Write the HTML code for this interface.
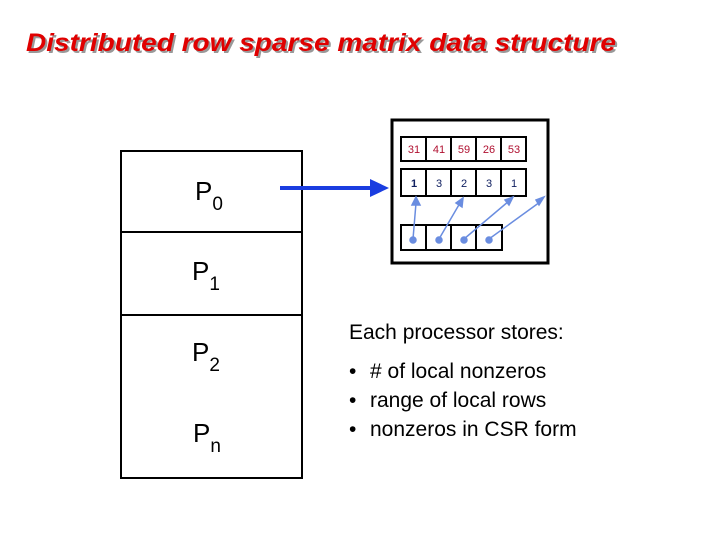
<!DOCTYPE html>
<html><head><style>
body{margin:0;background:#fff;width:720px;height:540px;overflow:hidden;font-family:"Liberation Sans",sans-serif}
</style></head><body>
<svg width="720" height="540" xmlns="http://www.w3.org/2000/svg" font-family="Liberation Sans, sans-serif">
<text x="28" y="53" font-size="25" font-weight="bold" font-style="italic" fill="#999" textLength="590" lengthAdjust="spacingAndGlyphs">Distributed row sparse matrix data structure</text>
<text x="26" y="51" font-size="25" font-weight="bold" font-style="italic" fill="#e00000" textLength="590" lengthAdjust="spacingAndGlyphs">Distributed row sparse matrix data structure</text>
<rect x="121" y="151" width="181" height="327" fill="none" stroke="#000" stroke-width="2"/>
<line x1="121" y1="232" x2="302" y2="232" stroke="#000" stroke-width="2"/>
<line x1="121" y1="315" x2="302" y2="315" stroke="#000" stroke-width="2"/>
<g font-size="26" fill="#000">
<text x="195" y="200">P<tspan font-size="19" dy="10">0</tspan></text>
<text x="192" y="280">P<tspan font-size="19" dy="10">1</tspan></text>
<text x="192" y="361">P<tspan font-size="19" dy="10">2</tspan></text>
<text x="193" y="442">P<tspan font-size="19" dy="10">n</tspan></text>
</g>
<line x1="280" y1="188" x2="372" y2="188" stroke="#1a3de0" stroke-width="4"/>
<polygon points="370,179 389,188 370,197" fill="#1a3de0"/>
<rect x="392" y="120" width="156" height="143" fill="none" stroke="#000" stroke-width="3"/>
<g stroke="#000" stroke-width="2" fill="none">
<rect x="401" y="137" width="125" height="24"/>
<line x1="426" y1="137" x2="426" y2="161"/><line x1="451" y1="137" x2="451" y2="161"/><line x1="476" y1="137" x2="476" y2="161"/><line x1="501" y1="137" x2="501" y2="161"/>
<rect x="401" y="169" width="125" height="27"/>
<line x1="426" y1="169" x2="426" y2="196"/><line x1="451" y1="169" x2="451" y2="196"/><line x1="476" y1="169" x2="476" y2="196"/><line x1="501" y1="169" x2="501" y2="196"/>
<rect x="401" y="225" width="101" height="25"/>
<line x1="426" y1="225" x2="426" y2="250"/><line x1="451" y1="225" x2="451" y2="250"/><line x1="476" y1="225" x2="476" y2="250"/>
</g>
<g font-size="11" fill="#b01030" text-anchor="middle">
<text x="414" y="153">31</text><text x="439" y="153">41</text><text x="464" y="153">59</text><text x="489" y="153">26</text><text x="514" y="153">53</text>
</g>
<g font-size="11" fill="#102060" text-anchor="middle">
<text x="414" y="187" font-weight="bold">1</text><text x="439" y="187">3</text><text x="464" y="187">2</text><text x="489" y="187">3</text><text x="514" y="187">1</text>
</g>
<g stroke="#6a8de0" stroke-width="1.5" fill="#6a8de0">
<line x1="413" y1="239" x2="416" y2="203"/><polygon points="412,205 416,197 420,205"/>
<line x1="439" y1="239" x2="460" y2="203"/><polygon points="456,203 463,198 462,207"/>
<line x1="464" y1="239" x2="509" y2="201"/><polygon points="505,200 513,197 509,205"/>
<line x1="489" y1="239" x2="540" y2="202"/><polygon points="536,200 544,197 539,205"/>
<circle cx="413" cy="240" r="3"/><circle cx="439" cy="240" r="3"/><circle cx="464" cy="240" r="3"/><circle cx="489" cy="240" r="3"/>
</g>
<g font-size="21" fill="#000">
<text x="349" y="339">Each processor stores:</text>
<text x="349" y="378">•</text><text x="370" y="378">#  of local nonzeros</text>
<text x="349" y="407">•</text><text x="370" y="407">range of local rows</text>
<text x="349" y="436">•</text><text x="370" y="436">nonzeros in CSR form</text>
</g>
</svg>
</body></html>
